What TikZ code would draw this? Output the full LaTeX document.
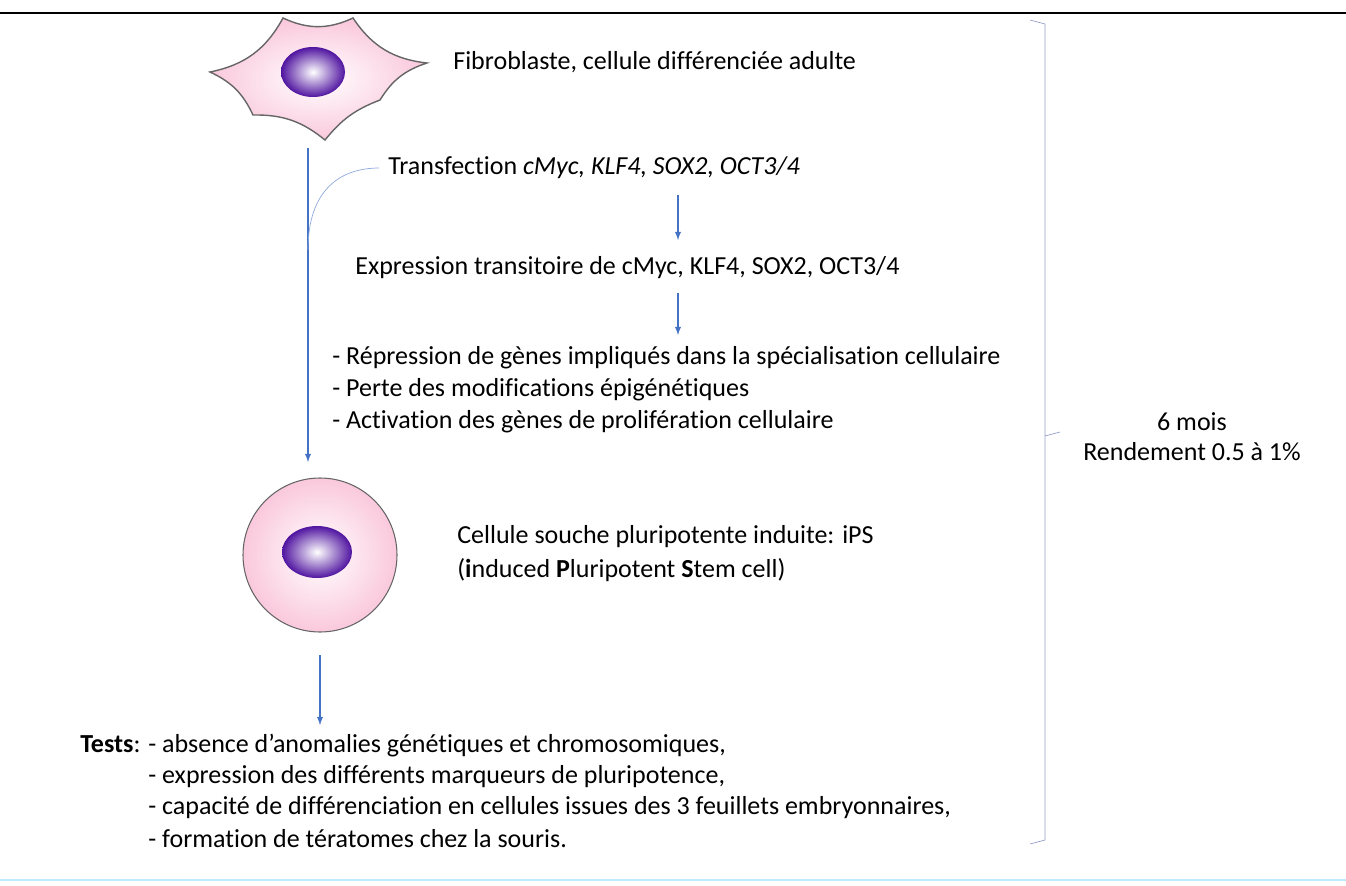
\documentclass[tikz,border=0pt]{standalone}
\usepackage{fontspec}
\setmainfont{Carlito}[Ligatures=NoCommon]
\usetikzlibrary{positioning}
\definecolor{arrowblue}{RGB}{68,114,196}
\definecolor{cellpink}{RGB}{250,200,220}
\definecolor{nucviolet}{RGB}{80,20,160}
\definecolor{bracegray}{RGB}{150,160,200}
\tikzset{
  txt/.style={anchor=west,inner sep=0pt,font=\fontsize{14.8}{17}\selectfont},
  arr/.style={->,>=latex,arrowblue,semithick},
  cellfill/.style={draw=gray!80!black,thick,inner color=white,outer color=cellpink},
  nucleus/.style={inner color=white,outer color=nucviolet}
}
\begin{document}
\begin{tikzpicture}[x=0.02cm,y=-0.02cm]
  \useasboundingbox (0,0) rectangle (1346,886);
  \draw[black,thick] (0,13) -- (1346,13);
  \draw[cyan!25,thick] (0,880) -- (1346,880);

  % fibroblaste
  \draw[cellfill] (283,18) to[bend right=25] (353,18) to[bend right=25] (427,63)
    to[bend right=20] (380,100) to[bend right=15] (325,140) to[bend right=20] (253,115)
    to[bend right=20] (210,72) to[bend right=25] cycle;
  \shade[nucleus] (313,72) ellipse [x radius=32,y radius=25];
  \coordinate (fibro) at (308,148);
  \node[txt] (fibtxt) at (453,62) {Fibroblaste, cellule différenciée adulte};

  % cellule iPS
  \draw[cellfill,semithick] (320,555) circle [radius=77];
  \shade[nucleus] (317,552) ellipse [x radius=35,y radius=26];
  \coordinate (ipstop) at (308,462);
  \node[txt] (ips1) at (457,537) {Cellule souche pluripotente induite: iPS};
  \node[txt] (ips2) at (457,570) {(\textbf{i}nduced \textbf{P}luripotent \textbf{S}tem cell)};

  % etapes
  \node[txt] (transf) at (388,168) {Transfection \textit{cMyc, KLF4, SOX2, OCT3/4}};
  \node[txt] (expr) at (355,268) {Expression transitoire de cMyc, KLF4, SOX2, OCT3/4};
  \node[txt] (rep1) at (332,358) {- Répression de gènes impliqués dans la spécialisation cellulaire};
  \node[txt] (rep2) at (332,390) {- Perte des modifications épigénétiques};
  \node[txt] (rep3) at (332,422) {- Activation des gènes de prolifération cellulaire};

  % tests
  \node[txt] (tests) at (80,746) {\textbf{Tests}: - absence d’anomalies génétiques et chromosomiques,};
  \node[txt] (t2) at (148,777) {- expression des différents marqueurs de pluripotence,};
  \node[txt] (t3) at (148,808) {- capacité de différenciation en cellules issues des 3 feuillets embryonnaires,};
  \node[txt] (t4) at (148,839) {- formation de tératomes chez la souris.};

  % duree
  \node[font=\fontsize{14.8}{17}\selectfont,align=center] (duree) at (1192,437) {6 mois\\Rendement 0.5 à 1\%};

  % arrows
  \draw[arr] (fibro) -- (ipstop);
  \draw[arrowblue!60] (308,250) .. controls (308,190) and (340,168) .. ([xshift=-5]transf.west);
  \draw[arr] (678,195) -- (678,240);
  \draw[arr] (678,293) -- (678,335);
  \draw[arr] (320,655) -- (320,725);

  % accolade
  \draw[bracegray] (1030,20) -- (1045,24) -- (1045,840) -- (1030,844)
    (1045,436) -- (1060,432);
\end{tikzpicture}
\end{document}
